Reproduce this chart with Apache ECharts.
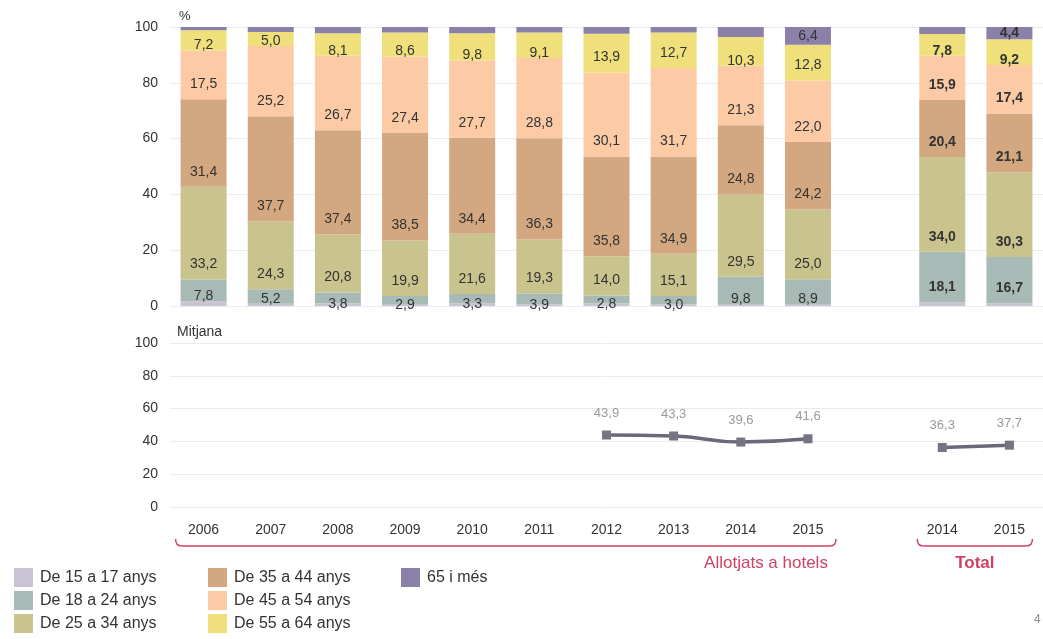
<!DOCTYPE html>
<html>
<head>
<meta charset="utf-8">
<script src="https://cdn.jsdelivr.net/npm/echarts@6/dist/echarts.min.js"></script>
<style>
html,body{margin:0;padding:0;background:#fff;}
#chart{width:1043px;height:639px;}
</style>
</head>
<body>
<div id="chart"></div>
<script>
// Categories: hotels 2006-2015, an empty gap slot, Total 2014-2015
const categories = ['2006','2007','2008','2009','2010','2011','2012','2013','2014','2015','','2014 ','2015 '];
const seriesNames = ['De 15 a 17 anys','De 18 a 24 anys','De 25 a 34 anys','De 35 a 44 anys','De 45 a 54 anys','De 55 a 64 anys','65 i més'];
const age15_17 = [1.7, 0.8, 1.0, 0.7, 1.0, 0.6, 1.0, 0.6, 0.7, 0.7, null, 1.3, 0.9];
const age18_24 = [7.8, 5.2, 3.8, 2.9, 3.3, 3.9, 2.8, 3.0, 9.8, 8.9, null, 18.1, 16.7];
const age25_34 = [33.2, 24.3, 20.8, 19.9, 21.6, 19.3, 14.0, 15.1, 29.5, 25.0, null, 34.0, 30.3];
const age35_44 = [31.4, 37.7, 37.4, 38.5, 34.4, 36.3, 35.8, 34.9, 24.8, 24.2, null, 20.4, 21.1];
const age45_54 = [17.5, 25.2, 26.7, 27.4, 27.7, 28.8, 30.1, 31.7, 21.3, 22.0, null, 15.9, 17.4];
const age55_64 = [7.2, 5.0, 8.1, 8.6, 9.8, 9.1, 13.9, 12.7, 10.3, 12.8, null, 7.8, 9.2];
const age65plus = [1.2, 1.8, 2.2, 2.0, 2.2, 2.0, 2.4, 2.0, 3.6, 6.4, null, 2.5, 4.4];
const mitjana = [null, null, null, null, null, null, 43.9, 43.3, 39.6, 41.6, null, 36.3, 37.7];
const yTicks = [0, 20, 40, 60, 80, 100];

const colors = ['#c9c3d3', '#a8bab6', '#c9c48d', '#d3a880', '#fccba6', '#efe07c', '#8b80a8'];
const allSeries = [age15_17, age18_24, age25_34, age35_44, age45_54, age55_64, age65plus];
const totalIdx = [11, 12];
const FONT = '"Liberation Sans", Arial, sans-serif';
const fmt = v => (v == null ? '' : v.toFixed(1).replace('.', ','));

function labelShown(si, v) {
  if (v == null) return false;
  if (si === 0) return false;
  if (si === 6) return v >= 4;
  return true;
}
function labelPlacement(si, v) {
  if (si === 6) return { position: 'inside' };
  if (v >= 12) return { position: 'insideBottom', distance: 8 };
  if (v >= 5) return { position: 'insideBottom', distance: -2 };
  return { position: 'insideBottom', distance: -8 };
}

const barSeries = allSeries.map((arr, si) => ({
  name: seriesNames[si],
  type: 'bar',
  stack: 'age',
  xAxisIndex: 0,
  yAxisIndex: 0,
  barWidth: 46,
  itemStyle: { color: colors[si] },
  data: arr.map((v, i) => ({
    value: v,
    label: Object.assign({
      show: labelShown(si, v),
      fontWeight: totalIdx.includes(i) ? 'bold' : 'normal'
    }, labelPlacement(si, v))
  })),
  label: {
    color: '#333',
    fontSize: 14,
    fontFamily: FONT,
    formatter: p => fmt(p.value)
  },
  emphasis: { disabled: true }
}));

const lineSeries = {
  name: 'Mitjana',
  type: 'line',
  xAxisIndex: 1,
  yAxisIndex: 1,
  data: mitjana,
  smooth: 0.5,
  connectNulls: false,
  symbol: 'rect',
  symbolSize: 9,
  lineStyle: { color: '#6c6879', width: 3.5 },
  itemStyle: { color: '#777383' },
  label: {
    show: true,
    position: 'top',
    distance: 11,
    color: '#9a9a9a',
    fontSize: 13,
    fontFamily: FONT,
    formatter: p => fmt(p.value)
  },
  emphasis: { disabled: true }
};

const legendBase = {
  orient: 'vertical',
  icon: 'rect',
  itemWidth: 19,
  itemHeight: 19,
  itemGap: 4,
  top: 568,
  height: 80,
  padding: 0,
  textStyle: { fontSize: 16, color: '#333', fontFamily: FONT, padding: [0, 0, 0, 2] },
  selectedMode: false
};

const yAxisCommon = {
  type: 'value',
  min: 0,
  max: 100,
  interval: 20,
  axisLine: { show: false },
  axisTick: { show: false },
  axisLabel: { color: '#333', fontSize: 14, fontFamily: FONT, margin: 12 },
  splitLine: { lineStyle: { color: '#ebebeb', width: 1 } }
};

const chart = echarts.init(document.getElementById('chart'), null, { renderer: 'canvas' });
chart.setOption({
  animation: false,
  backgroundColor: '#fff',
  grid: [
    { left: 170, right: 0, top: 27, height: 279 },
    { left: 170, right: 0, top: 343, height: 164 }
  ],
  xAxis: [
    { type: 'category', gridIndex: 0, data: categories, axisLine: { show: false }, axisTick: { show: false }, axisLabel: { show: false } },
    { type: 'category', gridIndex: 1, data: categories, axisLine: { show: false }, axisTick: { show: false },
      axisLabel: { color: '#333', fontSize: 14, fontFamily: FONT, margin: 16, formatter: v => v.trim() } }
  ],
  yAxis: [
    Object.assign({ gridIndex: 0 }, yAxisCommon),
    Object.assign({ gridIndex: 1 }, yAxisCommon)
  ],
  legend: [
    Object.assign({ left: 14, data: seriesNames.slice(0, 3) }, legendBase),
    Object.assign({ left: 208, data: seriesNames.slice(3, 6) }, legendBase),
    Object.assign({ left: 401, data: seriesNames.slice(6) }, legendBase)
  ],
  series: barSeries.concat([lineSeries])
});

// Annotations (axis unit labels, group brackets) placed from the axis scale
const cx = i => chart.convertToPixel({ xAxisIndex: 1 }, i);
const yb = 546, curl = 7, r = 6;
const red = '#d23f62';
function bracket(x0, x1) {
  const st = { stroke: red, lineWidth: 1.5, fill: null };
  return [
    { type: 'bezierCurve', shape: { x1: x0, y1: yb - curl, x2: x0 + r, y2: yb, cpx1: x0, cpy1: yb }, style: st },
    { type: 'line', shape: { x1: x0 + r, y1: yb, x2: x1 - r, y2: yb }, style: st },
    { type: 'bezierCurve', shape: { x1: x1 - r, y1: yb, x2: x1, y2: yb - curl, cpx1: x1, cpy1: yb }, style: st }
  ];
}
const h0 = cx(0) - 28, h1 = cx(9) + 28;
const t0 = cx(11) - 25, t1 = cx(12) + 23;
chart.setOption({
  graphic: [
    { type: 'text', left: 179, top: 10, style: { text: '%', fontSize: 13, fill: '#333', fontFamily: FONT } },
    { type: 'text', left: 177, top: 325, style: { text: 'Mitjana', fontSize: 14, fill: '#333', fontFamily: FONT } },
    { type: 'text', x: 766, y: 563, style: { text: 'Allotjats a hotels', fontSize: 17, fill: red, fontFamily: FONT, align: 'center', verticalAlign: 'middle' } },
    { type: 'text', x: (t0 + t1) / 2, y: 563, style: { text: 'Total', fontSize: 17, fontWeight: 'bold', fill: red, fontFamily: FONT, align: 'center', verticalAlign: 'middle' } },
    { type: 'text', x: 1034, y: 620, style: { text: '4', fontSize: 12, fill: '#888', fontFamily: FONT, verticalAlign: 'middle' } }
  ].concat(bracket(h0, h1), bracket(t0, t1))
});
</script>
</body>
</html>
